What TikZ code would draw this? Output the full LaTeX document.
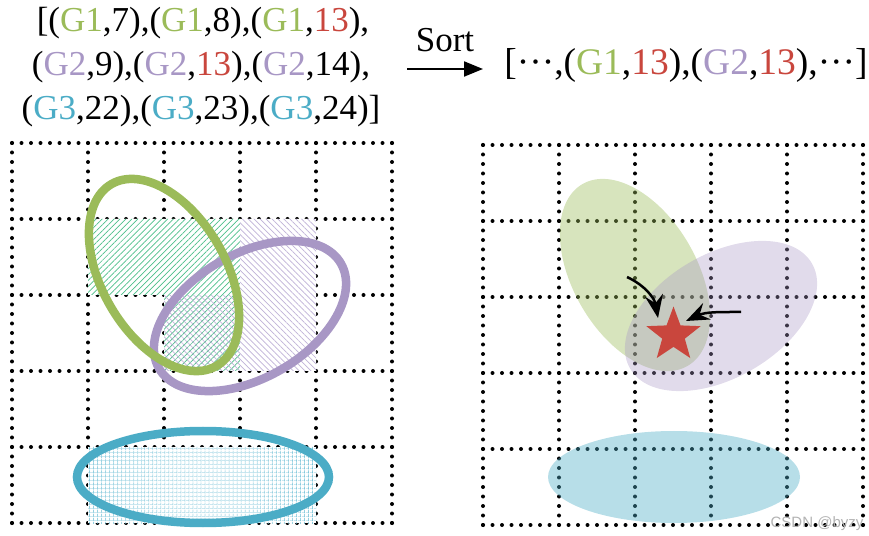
\documentclass[tikz,border=0pt]{standalone}
\usepackage{fontspec}
\setmainfont{Liberation Serif}
\newfontfamily\markfont{Liberation Sans}
\usetikzlibrary{arrows.meta, positioning, patterns.meta, shapes.geometric}

\definecolor{gone}{HTML}{9BBB59}
\definecolor{gtwo}{HTML}{A897C5}
\definecolor{gthree}{HTML}{4BACC6}
\definecolor{hot}{HTML}{C9463D}
\definecolor{hatchone}{HTML}{4CC08A}
\definecolor{hatchtwo}{HTML}{BFB2D8}
\definecolor{hatchthree}{HTML}{4BB0CC}

\newcommand{\middots}{\textperiodcentered\textperiodcentered\textperiodcentered}

\tikzset{
	dotgrid/.style={line width=4pt, line cap=round, dash pattern=on 0pt off 9.5pt},
	bigtext/.style={anchor=base, inner sep=0pt, font=\fontsize{35}{43}\selectfont},
	ring/.style={line width=8.5pt},
	blob/.style={fill opacity=0.4},
	pointer/.style={line width=2.5pt, -{Stealth[length=23pt, width=18pt, inset=8pt]}}
}

\begin{document}
\begin{tikzpicture}[x=1pt, y=1pt]
	\useasboundingbox (0,0) rectangle (869,535);
	% Lists:
	\node[bigtext] (lineone) at (203, 503) {[(\textcolor{gone}{G1},7),(\textcolor{gone}{G1},8),(\textcolor{gone}{G1},\textcolor{hot}{13}),};
	\node[bigtext] (linetwo) at (201, 459) {(\textcolor{gtwo}{G2},9),(\textcolor{gtwo}{G2},\textcolor{hot}{13}),(\textcolor{gtwo}{G2},14),};
	\node[bigtext] (linethree) at (201, 415) {(\textcolor{gthree}{G3},22),(\textcolor{gthree}{G3},23),(\textcolor{gthree}{G3},24)]};
	\node[bigtext, font=\fontsize{37.5}{46}\selectfont] (sorted) at (686, 460) {[\middots,(\textcolor{gone}{G1},\textcolor{hot}{13}),(\textcolor{gtwo}{G2},\textcolor{hot}{13}),\middots]};
	\coordinate (sortfrom) at (407, 466);
	\coordinate (sortto) at (483, 466);
	\draw[line width=2pt, -{Triangle[length=19pt, width=15pt]}] (sortfrom) -- (sortto);
	\node[bigtext] (sortlabel) at (445, 483) {Sort};

	% Grids:
	\foreach \i in {0,...,5} {
		\draw[dotgrid] (12+76*\i, 12) -- (12+76*\i, 392);
		\draw[dotgrid] (12, 12+76*\i) -- (392, 12+76*\i);
		\draw[dotgrid] (483+76*\i, 10) -- (483+76*\i, 390);
		\draw[dotgrid] (483, 10+76*\i) -- (863, 10+76*\i);
	}

	% Hatched cells:
	\fill[white] (88, 316) -- (316, 316) -- (316, 164) -- (164, 164) -- (164, 240) -- (88, 240) -- cycle;
	\fill[white] (88, 88) rectangle (316, 12);
	\path[pattern={Lines[angle=45, distance=4.2pt, line width=0.7pt]}, pattern color=hatchone] (88, 316) -- (240, 316) -- (240, 164) -- (164, 164) -- (164, 240) -- (88, 240) -- cycle;
	\path[pattern={Lines[angle=-45, distance=4.2pt, line width=0.7pt]}, pattern color=hatchtwo] (240, 316) -- (316, 316) -- (316, 164) -- (164, 164) -- (164, 240) -- (240, 240) -- cycle;
	\path[pattern={Lines[angle=0, distance=4pt, line width=0.5pt]}, pattern color=hatchthree!45] (88, 88) rectangle (316, 12);
	\path[pattern={Lines[angle=90, distance=4pt, line width=0.6pt]}, pattern color=hatchthree] (88, 88) rectangle (316, 12);

	% Left ellipses:
	\draw[ring, gtwo, shift={(250, 219)}, rotate=30] (0,0) ellipse [x radius=105, y radius=62];
	\draw[ring, gone, shift={(164, 260)}, rotate=30] (0,0) ellipse [x radius=62, y radius=105];
	\draw[ring, gthree] (203, 58) ellipse [x radius=126, y radius=46];

	% Right ellipses:
	\fill[blob, gone, shift={(635, 260)}, rotate=30] (0,0) ellipse [x radius=62, y radius=105];
	\fill[blob, gtwo, fill opacity=0.35, shift={(721, 219)}, rotate=30] (0,0) ellipse [x radius=105, y radius=62];
	\fill[blob, gthree] (674, 58) ellipse [x radius=126, y radius=46];

	\node[star, star points=5, star point ratio=2.4, minimum size=57pt, inner sep=0pt, fill=hot] (target) at (673.5, 200) {};
	\coordinate (fromgone) at (627, 258);
	\coordinate (fromgtwo) at (741, 223);
	\coordinate (hitgone) at (658, 217);
	\coordinate (hitgtwo) at (686, 214);
	\draw[pointer] (fromgone) to[out=-25, in=100] (hitgone);
	\draw[pointer] (fromgtwo) to[out=180, in=25] (hitgtwo);

	\node[anchor=base, inner sep=0pt, text=black!30, font=\markfont\fontsize{15}{18}\selectfont] (mark) at (817, 8) {CSDN @byzy};
\end{tikzpicture}
\end{document}
